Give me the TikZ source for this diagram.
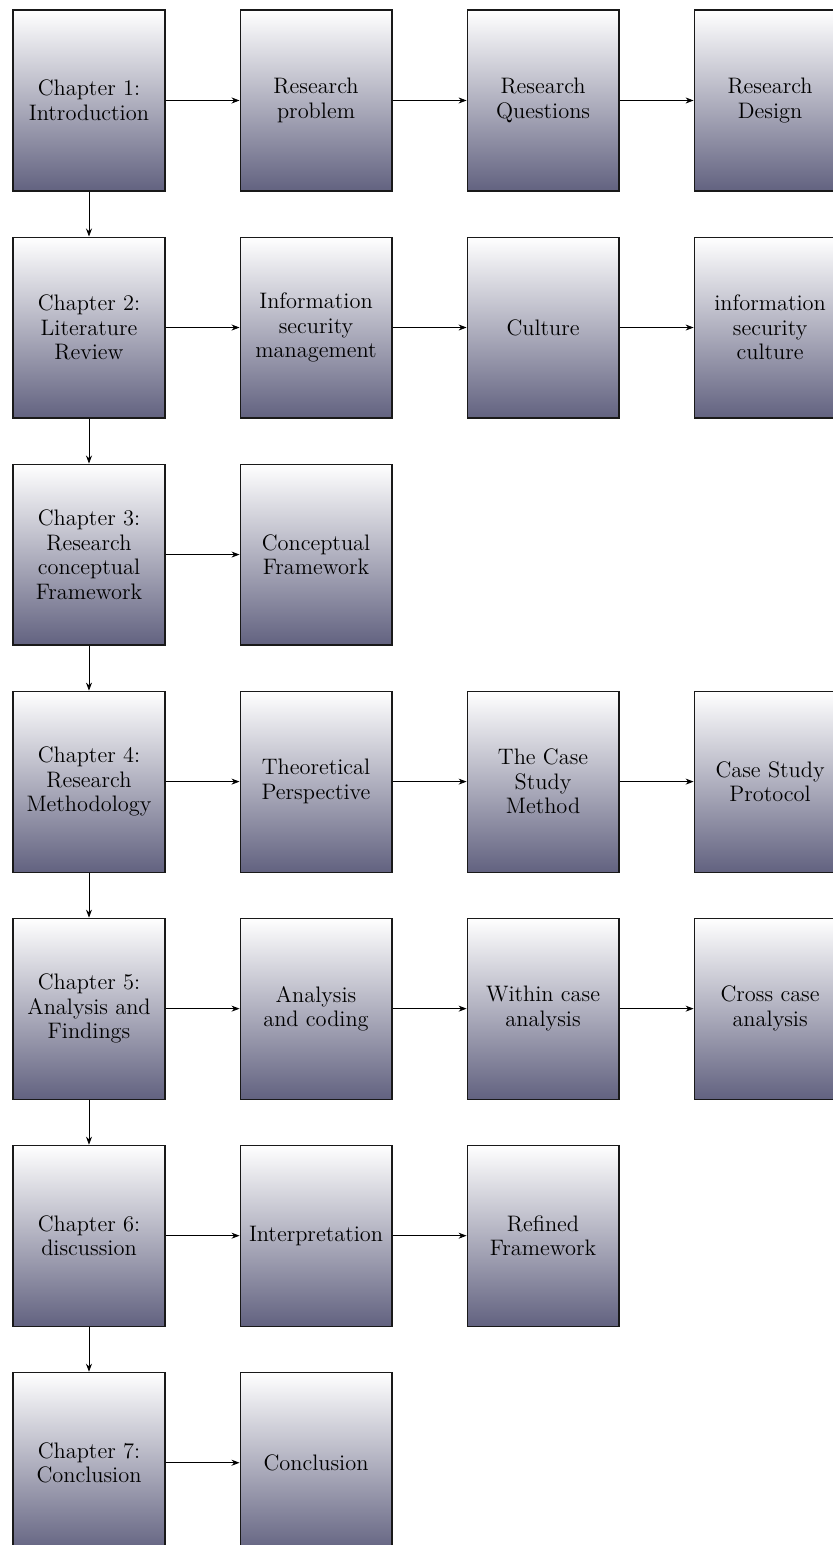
\documentclass[tikz,border=0pt]{standalone}
\usetikzlibrary{arrows.meta}
\definecolor{boxbottom}{RGB}{98,98,128}
\begin{document}
\begin{tikzpicture}[
  stagebox/.style={draw=black!90, line width=0.55pt, top color=white, bottom color=boxbottom,
    minimum width=2.67cm, minimum height=3.18cm, inner sep=0pt,
    align=center, font=\fontsize{11.2}{12.3}\selectfont},
  flow/.style={-{Stealth[length=4pt,width=3pt]}, thin}
]
\clip (-1.564,1.766) rectangle (13.075,-25.386);
% column x-positions: 0, 3.99, 7.98, 11.97 ; row pitch 3.99
% Row 1
\node[stagebox] (c1)  at (0,0)        {Chapter 1:\\Introduction};
\node[stagebox] (c1a) at (3.99,0)     {Research\\problem};
\node[stagebox] (c1b) at (7.98,0)     {Research\\Questions};
\node[stagebox] (c1c) at (11.97,0)    {Research\\Design};
% Row 2
\node[stagebox] (c2)  at (0,-3.99)    {Chapter 2:\\Literature\\Review};
\node[stagebox] (c2a) at (3.99,-3.99) {Information\\security\\management};
\node[stagebox] (c2b) at (7.98,-3.99) {Culture};
\node[stagebox] (c2c) at (11.97,-3.99){information\\security\\culture};
% Row 3
\node[stagebox] (c3)  at (0,-7.98)    {Chapter 3:\\Research\\conceptual\\Framework};
\node[stagebox] (c3a) at (3.99,-7.98) {Conceptual\\Framework};
% Row 4
\node[stagebox] (c4)  at (0,-11.97)   {Chapter 4:\\Research\\Methodology};
\node[stagebox] (c4a) at (3.99,-11.97){Theoretical\\Perspective};
\node[stagebox] (c4b) at (7.98,-11.97){The Case\\Study\\Method};
\node[stagebox] (c4c) at (11.97,-11.97){Case Study\\Protocol};
% Row 5
\node[stagebox] (c5)  at (0,-15.96)   {Chapter 5:\\Analysis and\\Findings};
\node[stagebox] (c5a) at (3.99,-15.96){Analysis\\and coding};
\node[stagebox] (c5b) at (7.98,-15.96){Within case\\analysis};
\node[stagebox] (c5c) at (11.97,-15.96){Cross case\\analysis};
% Row 6
\node[stagebox] (c6)  at (0,-19.95)   {Chapter 6:\\discussion};
\node[stagebox] (c6a) at (3.99,-19.95){Interpretation};
\node[stagebox] (c6b) at (7.98,-19.95){Refined\\Framework};
% Row 7
\node[stagebox] (c7)  at (0,-23.94)   {Chapter 7:\\Conclusion};
\node[stagebox] (c7a) at (3.99,-23.94){Conclusion};

% chapter sequence
\foreach \a/\b in {c1/c2,c2/c3,c3/c4,c4/c5,c5/c6,c6/c7}
  \draw[flow] (\a.south) -- (\b.north);
% topics within each chapter
\foreach \a/\b in {c1/c1a,c1a/c1b,c1b/c1c,
                   c2/c2a,c2a/c2b,c2b/c2c,
                   c3/c3a,
                   c4/c4a,c4a/c4b,c4b/c4c,
                   c5/c5a,c5a/c5b,c5b/c5c,
                   c6/c6a,c6a/c6b,
                   c7/c7a}
  \draw[flow] (\a.east) -- (\b.west);
\end{tikzpicture}
\end{document}
